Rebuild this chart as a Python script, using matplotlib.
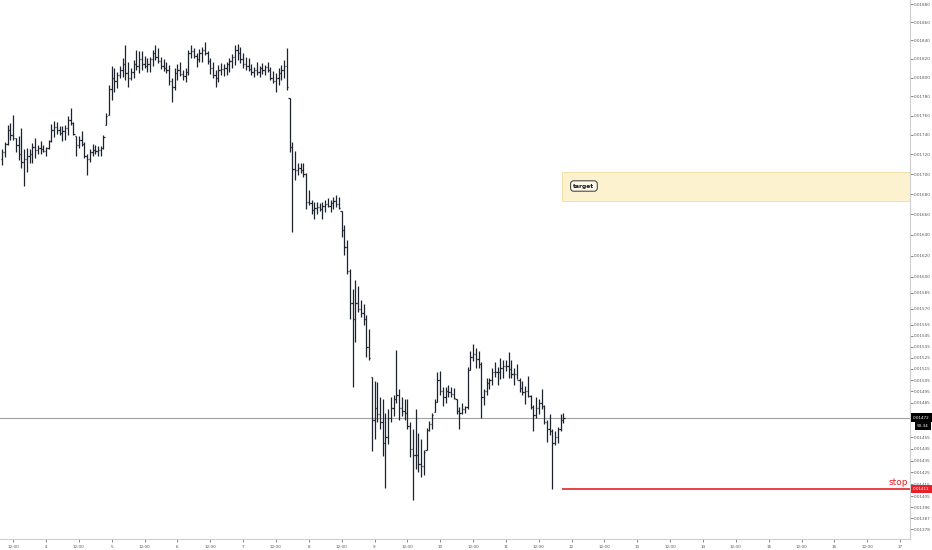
import matplotlib
matplotlib.use("Agg")
import matplotlib.pyplot as plt
from matplotlib.ticker import FixedLocator, NullLocator, FixedFormatter
from matplotlib.patches import Rectangle
import matplotlib.transforms as mtransforms
import numpy as np

plt.rcParams['font.family'] = ['DejaVu Sans']

# ---------------- data (hourly OHLC, prices in units of 1e-5) ----------------
first_bar_hour = 8          # first bar: day 3, 08:00  (hours counted from day 3 00:00)

opens_e5 = [
    1715,1722,1731,1745,1740,1737,1730,1720,1712,1715,
    1718,1720,1728,1724,1727,1725,1723,1727,1734,1745,
    1748,1745,1742,1744,1747,1755,1752,1739,1730,1735,
    1731,1718,1715,1722,1724,1723,1724,1727,1750,1761,
    1788,1800,1796,1803,1808,1815,1805,1800,1806,1815,
    1812,1820,1815,1812,1815,1820,1826,1822,1818,1812,
    1810,1808,1796,1790,1805,1808,1804,1802,1806,1826,
    1828,1823,1820,1826,1830,1826,1818,1810,1803,1800,
    1808,1809,1810,1814,1818,1822,1830,1826,1820,1815,
    1812,1809,1806,1808,1806,1810,1808,1811,1808,1800,
    1796,1800,1805,1808,1812,1778,1728,1705,1704,1706,
    1704,1700,1672,1671,1664,1666,1667,1665,1668,1670,
    1668,1671,1673,1670,1663,1645,1628,1605,1575,1560,
    1575,1570,1566,1560,1535,1508,1470,1480,1475,1468,
    1450,1455,1472,1480,1488,1492,1480,1478,1476,1465,
    1445,1440,1440,1432,1430,1444,1461,1466,1477,1486,
    1505,1495,1490,1495,1494,1493,1488,1478,1476,1479,
    1481,1514,1526,1528,1524,1519,1490,1495,1502,1505,
    1512,1512,1512,1516,1518,1518,1515,1510,1510,1505,
    1498,1494,1495,1491,1481,1474,1480,1485,1482,1468,
    1462,1460,1450,1455,1462,1470]

highs_e5 = [
    1725,1733,1750,1752,1761,1737,1739,1747,1725,1727,
    1725,1732,1737,1730,1734,1730,1728,1735,1751,1754,
    1753,1749,1749,1750,1759,1768,1753,1739,1739,1744,
    1733,1720,1725,1731,1730,1729,1729,1740,1763,1792,
    1812,1810,1806,1812,1821,1835,1817,1810,1819,1830,
    1828,1828,1823,1821,1822,1830,1835,1832,1822,1820,
    1817,1813,1800,1810,1815,1817,1808,1810,1830,1835,
    1832,1826,1831,1833,1838,1828,1821,1817,1808,1813,
    1816,1815,1817,1821,1825,1835,1836,1833,1826,1822,
    1821,1815,1811,1817,1812,1816,1813,1817,1811,1807,
    1805,1810,1813,1819,1832,1778,1733,1723,1711,1711,
    1711,1701,1684,1674,1672,1672,1671,1672,1674,1676,
    1674,1677,1679,1677,1663,1650,1635,1607,1588,1597,
    1591,1578,1574,1564,1551,1508,1504,1503,1490,1488,
    1476,1479,1490,1492,1532,1497,1490,1488,1488,1468,
    1462,1479,1459,1453,1444,1463,1469,1476,1488,1512,
    1513,1499,1499,1501,1499,1498,1488,1481,1485,1482,
    1517,1531,1537,1534,1531,1521,1497,1507,1507,1516,
    1521,1517,1525,1523,1523,1530,1523,1516,1519,1507,
    1504,1500,1509,1492,1483,1490,1488,1497,1483,1470,
    1475,1462,1460,1464,1475,1476]

lows_e5 = [
    1709,1717,1730,1735,1735,1722,1714,1706,1688,1702,
    1711,1711,1716,1720,1720,1722,1718,1725,1733,1738,
    1741,1740,1734,1735,1740,1750,1740,1718,1727,1729,
    1716,1699,1712,1718,1720,1718,1718,1725,1750,1761,
    1776,1785,1789,1800,1801,1797,1790,1797,1800,1808,
    1805,1808,1810,1806,1806,1812,1819,1816,1809,1807,
    1805,1792,1774,1787,1797,1802,1797,1795,1803,1821,
    1821,1811,1817,1817,1824,1815,1804,1800,1790,1795,
    1803,1802,1803,1806,1810,1813,1819,1816,1810,1808,
    1807,1803,1801,1803,1801,1804,1803,1806,1797,1794,
    1785,1792,1797,1800,1787,1722,1643,1694,1699,1701,
    1697,1665,1669,1660,1655,1660,1663,1655,1662,1667,
    1662,1665,1667,1665,1638,1621,1602,1560,1499,1539,
    1567,1562,1555,1526,1523,1443,1453,1468,1462,1439,
    1412,1449,1468,1473,1485,1470,1473,1470,1462,1438,
    1402,1428,1425,1421,1423,1444,1460,1462,1477,1486,
    1492,1482,1485,1490,1490,1488,1475,1462,1475,1476,
    1479,1514,1522,1516,1516,1472,1483,1492,1497,1501,
    1508,1501,1506,1507,1513,1507,1507,1501,1506,1494,
    1492,1484,1490,1479,1460,1472,1475,1479,1466,1451,
    1457,1411,1448,1450,1460,1467]

closes_e5 = [
    1722,1731,1745,1740,1737,1730,1720,1712,1715,1718,
    1720,1728,1724,1727,1725,1723,1727,1734,1745,1748,
    1745,1742,1744,1747,1755,1752,1741,1730,1735,1731,
    1718,1715,1722,1724,1723,1724,1727,1738,1760,1788,
    1800,1796,1803,1808,1815,1805,1800,1806,1815,1812,
    1820,1815,1812,1815,1820,1826,1822,1818,1812,1810,
    1808,1796,1790,1805,1808,1804,1802,1806,1826,1828,
    1823,1820,1826,1830,1826,1818,1810,1803,1800,1808,
    1809,1810,1814,1818,1822,1830,1826,1820,1815,1812,
    1809,1806,1808,1806,1810,1808,1811,1808,1800,1796,
    1800,1805,1808,1812,1790,1728,1705,1704,1706,1704,
    1700,1672,1671,1664,1666,1667,1665,1668,1670,1668,
    1671,1673,1670,1666,1645,1628,1605,1575,1560,1575,
    1570,1566,1560,1535,1525,1470,1480,1475,1468,1450,
    1455,1472,1480,1488,1492,1480,1478,1476,1465,1445,
    1440,1440,1432,1430,1442,1461,1466,1474,1486,1505,
    1495,1490,1495,1494,1493,1489,1478,1476,1479,1481,
    1514,1526,1528,1524,1519,1490,1495,1502,1505,1512,
    1512,1512,1516,1518,1518,1515,1510,1510,1505,1498,
    1494,1495,1491,1481,1474,1480,1485,1482,1468,1462,
    1460,1450,1455,1462,1470,1472]

current_price = 0.01472
countdown = "50:34"
stop_price = 0.01411
target_low, target_high = 0.01673, 0.01702
zone_start_hour = 212.5

ytick_vals = [0.01880, 0.01860, 0.01840, 0.01820, 0.01800, 0.01780, 0.01760,
              0.01740, 0.01720, 0.01700, 0.01680, 0.01660, 0.01640, 0.01620,
              0.01600, 0.01585, 0.01570, 0.01555, 0.01545, 0.01535, 0.01525,
              0.01515, 0.01505, 0.01495, 0.01485, 0.01455, 0.01445, 0.01435,
              0.01425, 0.01415, 0.01405, 0.01396, 0.01387, 0.01378]
xtick_labels = ['12:00', '4', '12:00', '5', '12:00', '6', '12:00', '7',
                '12:00', '8', '12:00', '9', '12:00', '10', '12:00', '11',
                '12:00', '12', '12:00', '13', '12:00', '14', '12:00', '15',
                '12:00', '16', '12:00', '17']
xtick_hours = [12 * (k + 1) for k in range(len(xtick_labels))]

# ---------------- figure ----------------
W, H = 932, 550
fig = plt.figure(figsize=(W / 100, H / 100), dpi=100)
ax = fig.add_axes([0, 11 / H, 910 / W, 539 / H])

o = np.array(opens_e5) * 1e-5
h = np.array(highs_e5) * 1e-5
l = np.array(lows_e5) * 1e-5
c = np.array(closes_e5) * 1e-5
t = first_bar_hour + np.arange(len(o))

bar_col = '#1e222d'
ax.vlines(t, l, h, color=bar_col, lw=0.9, zorder=3)
ax.hlines(o, t - 0.45, t, color=bar_col, lw=0.9, zorder=3)
ax.hlines(c, t, t + 0.45, color=bar_col, lw=0.9, zorder=3)

ax.set_yscale('log')
ax.set_ylim(0.013699, 0.018845)
ax.set_xlim(7.2, 339.6)

# current price line
ax.axhline(current_price, color='#a0a0a0', lw=0.8, zorder=2)

# target zone
ax.add_patch(Rectangle((zone_start_hour, target_low), 339.6 - zone_start_hour,
                       target_high - target_low, facecolor='#fdf2cf',
                       edgecolor='#f3dc9a', lw=0.6, zorder=1))
ax.text(220.5, 0.016881, 'target', fontsize=4.3, fontweight='bold',
        color='#131722', ha='center', va='center', zorder=4,
        bbox=dict(boxstyle='round,pad=0.45,rounding_size=0.5',
                  facecolor='#fff9ea', edgecolor='#333333', lw=0.7))

# stop line
ax.hlines(stop_price, zone_start_hour, 339.6, color='#e8202a', lw=1.2, zorder=2)
ax.text(339.0, stop_price * 1.0015, 'stop', color='#e8202a', fontsize=6.5,
        ha='right', va='bottom', zorder=4)

# axes styling
for s in ['top', 'left']:
    ax.spines[s].set_visible(False)
for s in ['right', 'bottom']:
    ax.spines[s].set_color('#cfcfcf')
    ax.spines[s].set_linewidth(0.8)

ax.yaxis.tick_right()
ax.yaxis.set_major_locator(FixedLocator(ytick_vals))
ax.yaxis.set_minor_locator(NullLocator())
ax.yaxis.set_major_formatter(FixedFormatter(['%.5f' % v for v in ytick_vals]))
ax.tick_params(axis='y', which='major', labelsize=3.0, colors='#555555',
               length=2, width=0.5, pad=1.0)
ax.set_xticks(xtick_hours)
ax.set_xticklabels(xtick_labels)
ax.tick_params(axis='x', which='major', labelsize=3.0, colors='#555555',
               length=2, width=0.5, pad=2)

# right-side price labels
trans = mtransforms.blended_transform_factory(ax.transAxes, ax.transData)
ax.text(1 + 3.0 / 910, current_price, '%.5f' % current_price, transform=trans,
        fontsize=3.0, color='white', ha='left', va='center', clip_on=False,
        zorder=6, bbox=dict(boxstyle='square,pad=0.5', facecolor='#000000',
                            edgecolor='none'))
ax.text(1 + 7.0 / 910, current_price * 0.9948, countdown, transform=trans,
        fontsize=3.0, color='white', ha='left', va='center', clip_on=False,
        zorder=6, bbox=dict(boxstyle='square,pad=0.5', facecolor='#000000',
                            edgecolor='none'))
ax.text(1 + 3.0 / 910, stop_price, '%.5f' % stop_price, transform=trans,
        fontsize=3.0, color='white', ha='left', va='center', clip_on=False,
        zorder=6, bbox=dict(boxstyle='square,pad=0.5', facecolor='#e8202a',
                            edgecolor='none'))

fig.savefig('out.png', dpi=100, facecolor='white')
